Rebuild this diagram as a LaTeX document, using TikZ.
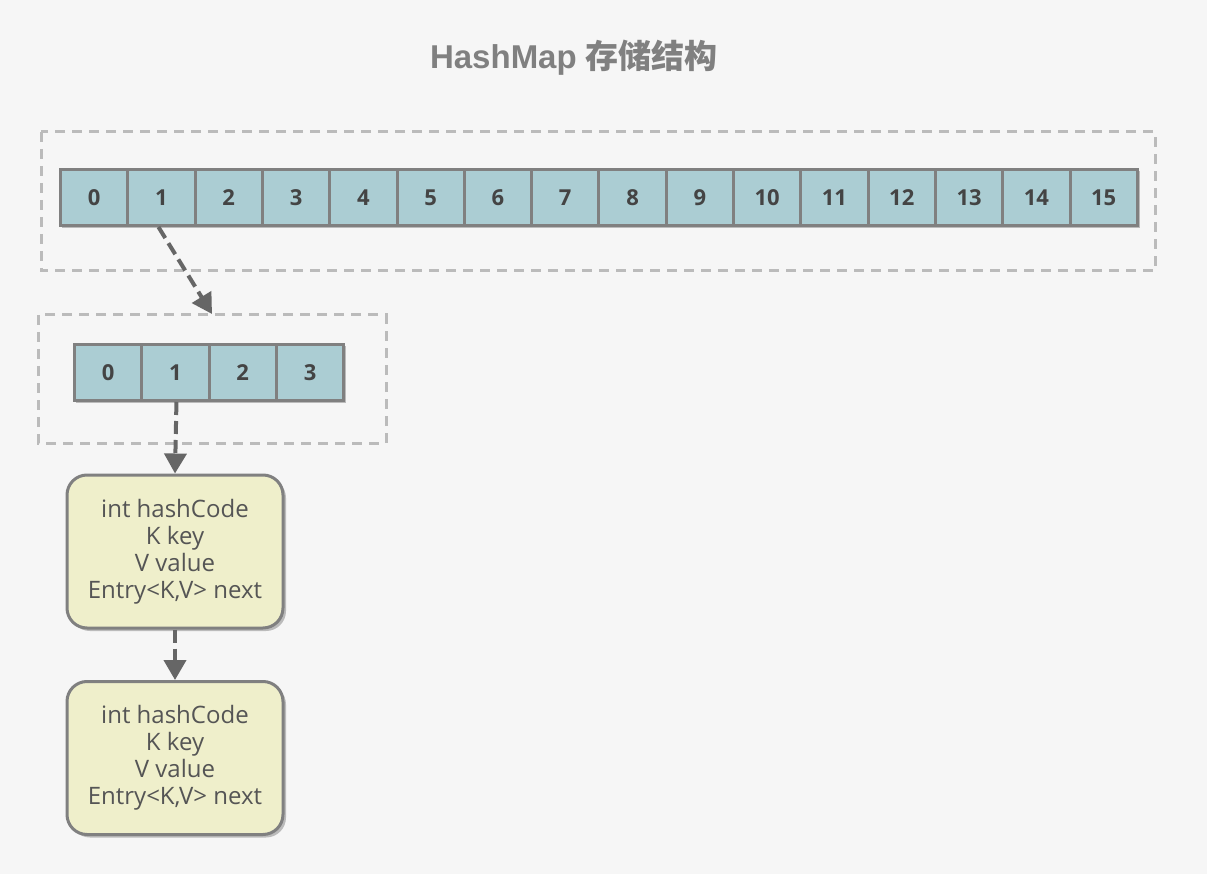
\documentclass[tikz,border=0pt]{standalone}
\usepackage{fontspec}
\setmainfont{Open Sans}
\newfontfamily\titlefont{Liberation Sans}
\newfontfamily\cjkfont{Noto Sans CJK SC}
\usetikzlibrary{arrows.meta,shadows}
\definecolor{bgc}{HTML}{F6F6F6}
\definecolor{cellc}{HTML}{ABCDD3}
\definecolor{edgec}{HTML}{808080}
\definecolor{dashc}{HTML}{BBBBBB}
\definecolor{arrc}{HTML}{666666}
\definecolor{entryc}{HTML}{EFEFCB}
\definecolor{numc}{HTML}{444444}
\definecolor{txtc}{HTML}{555555}
\definecolor{shc}{HTML}{BBBBBB}
\tikzset{
  cellbox/.style={draw=edgec, line width=3pt, fill=cellc, minimum width=67.3pt, minimum height=56pt, inner sep=0pt, anchor=north west, font=\fontsize{22}{26}\selectfont\bfseries, text=numc},
  groupbox/.style={draw=dashc, line width=3pt, dash pattern=on 10pt off 7pt},
  entrybox/.style={draw=edgec, line width=3pt, fill=entryc, rounded corners=20pt, minimum width=216pt, minimum height=153pt, inner sep=0pt, align=center, text=txtc, font=\fontsize{24}{27}\selectfont, drop shadow={shadow xshift=3pt, shadow yshift=-3pt, fill=shc, opacity=1}},
  linkarrow/.style={draw=arrc, line width=4pt, dash pattern=on 13pt off 6pt, -{Triangle[length=20pt,width=22pt]}},
}
\begin{document}
\begin{tikzpicture}[x=1pt,y=-1pt]
\fill[bgc] (0,0) rectangle (1207,874);
\useasboundingbox (0,0) rectangle (1207,874);
\node[font=\titlefont\fontsize{33}{38}\selectfont\bfseries, text=edgec] (title) at (574,58) {HashMap {\cjkfont\bfseries 存储结构}};
\draw[groupbox] (41,132) rectangle (1155,271);
\draw[groupbox] (38,315) rectangle (386,443);
% shadows of arrays
\fill[shc] (62,171) rectangle (1140,228);
\fill[shc] (76,346) rectangle (346,403);
\foreach \i in {0,...,15}{
  \node[cellbox] (t\i) at ({59+67.3*\i},168) {\i};
}
\foreach \i in {0,...,3}{
  \node[cellbox] (s\i) at ({73+67.3*\i},343) {\i};
}
\node[entrybox] (e1) at (175,551.5) {int hashCode\\K key\\V value\\Entry<K,V> next};
\node[entrybox] (e2) at (175,758) {int hashCode\\K key\\V value\\Entry<K,V> next};
\coordinate (a1s) at ([xshift=-3pt]t1.south);
\coordinate (a1e) at (212,314);
\draw[linkarrow] (a1s) -- (a1e);
\draw[linkarrow] ([xshift=1pt]s1.south) -- (e1.north);
\draw[linkarrow] (e1.south) -- (e2.north);
\end{tikzpicture}
\end{document}
